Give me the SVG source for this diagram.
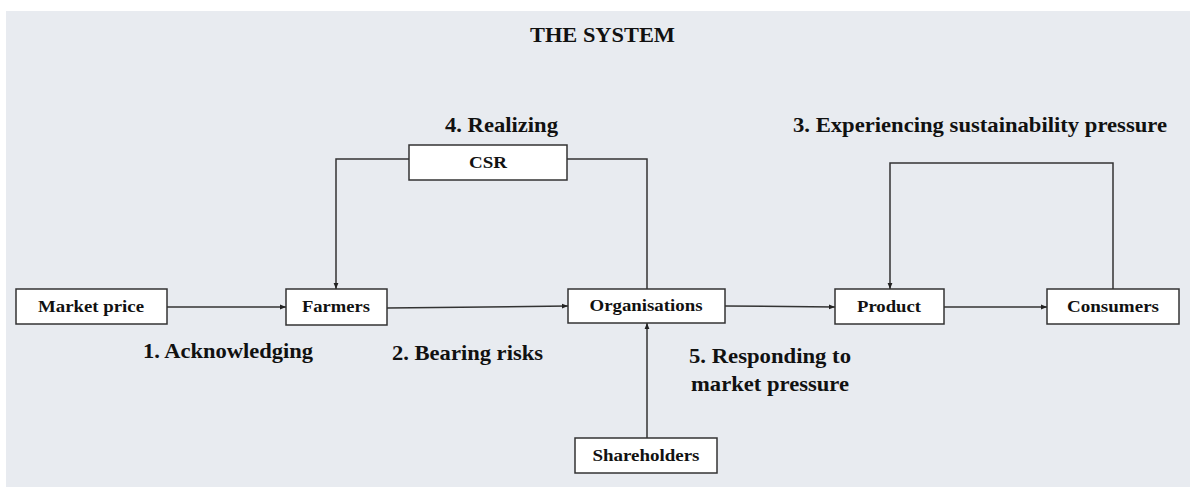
<svg xmlns="http://www.w3.org/2000/svg" width="1190" height="487" viewBox="0 0 1190 487">
  <defs>
    <marker id="arrow" viewBox="0 0 10 10" refX="10" refY="5" markerWidth="6" markerHeight="6" orient="auto" markerUnits="userSpaceOnUse">
      <path d="M0,1 L10,5 L0,9 Z" fill="#222"/>
    </marker>
    <style>
      .bg { fill: #e8ebf0; }
      .box { fill: #ffffff; stroke: #333333; stroke-width: 1.5; }
      .node { font-size: 17px; text-anchor: middle; }
      .step { font-size: 21px; }
      .link { fill: none; stroke: #333333; stroke-width: 1.5; }
      .arr { marker-end: url(#arrow); }
    </style>
  </defs>

  <rect x="0" y="0" width="1190" height="487" fill="#ffffff"/>
  <rect class="bg" x="6" y="11" width="1184" height="476"/>

  <g font-family="'Liberation Serif', 'Times New Roman', serif" font-weight="bold" fill="#111111">
    <text x="530" y="42" font-size="21" textLength="145" lengthAdjust="spacingAndGlyphs">THE SYSTEM</text>

    <!-- step labels -->
    <g id="labels" class="step">
      <text x="445" y="132" textLength="113" lengthAdjust="spacingAndGlyphs">4. Realizing</text>
      <text x="793" y="132" textLength="374" lengthAdjust="spacingAndGlyphs">3. Experiencing sustainability pressure</text>
      <text x="143" y="358" textLength="170" lengthAdjust="spacingAndGlyphs">1. Acknowledging</text>
      <text x="392" y="360" textLength="151" lengthAdjust="spacingAndGlyphs">2. Bearing risks</text>
      <text x="689" y="363" textLength="162" lengthAdjust="spacingAndGlyphs">5. Responding to</text>
      <text x="691" y="391" textLength="158" lengthAdjust="spacingAndGlyphs">market pressure</text>
    </g>
  </g>

  <!-- connectors -->
  <g id="connectors">
    <line class="link arr" x1="167" y1="307" x2="286" y2="307"/>
    <line class="link arr" x1="387" y1="308" x2="568" y2="306"/>
    <line class="link arr" x1="725" y1="306" x2="835" y2="307"/>
    <line class="link arr" x1="944" y1="307" x2="1047" y2="307"/>
    <polyline class="link arr" points="409,159 336,159 336,289"/>
    <polyline class="link" points="567,159 647,159 647,289"/>
    <line class="link arr" x1="647" y1="438" x2="647" y2="323"/>
    <polyline class="link arr" points="1113,289 1113,163 890,163 890,289"/>
  </g>

  <!-- nodes -->
  <g font-family="'Liberation Serif', 'Times New Roman', serif" font-weight="bold" fill="#111111">
    <g id="market-price">
      <rect class="box" x="16" y="289" width="151" height="35"/>
      <text class="node" x="91" y="312" textLength="106" lengthAdjust="spacingAndGlyphs">Market price</text>
    </g>
    <g id="farmers">
      <rect class="box" x="286" y="289" width="101" height="36"/>
      <text class="node" x="336" y="312" textLength="68" lengthAdjust="spacingAndGlyphs">Farmers</text>
    </g>
    <g id="csr">
      <rect class="box" x="409" y="145" width="158" height="35"/>
      <text class="node" x="488" y="168" textLength="38" lengthAdjust="spacingAndGlyphs">CSR</text>
    </g>
    <g id="organisations">
      <rect class="box" x="568" y="289" width="157" height="34"/>
      <text class="node" x="646" y="311" textLength="113" lengthAdjust="spacingAndGlyphs">Organisations</text>
    </g>
    <g id="shareholders">
      <rect class="box" x="575" y="438" width="142" height="35"/>
      <text class="node" x="646" y="461" textLength="107" lengthAdjust="spacingAndGlyphs">Shareholders</text>
    </g>
    <g id="product">
      <rect class="box" x="835" y="289" width="109" height="35"/>
      <text class="node" x="889" y="312" textLength="64" lengthAdjust="spacingAndGlyphs">Product</text>
    </g>
    <g id="consumers">
      <rect class="box" x="1047" y="289" width="132" height="35"/>
      <text class="node" x="1113" y="312" textLength="92" lengthAdjust="spacingAndGlyphs">Consumers</text>
    </g>
  </g>
</svg>
